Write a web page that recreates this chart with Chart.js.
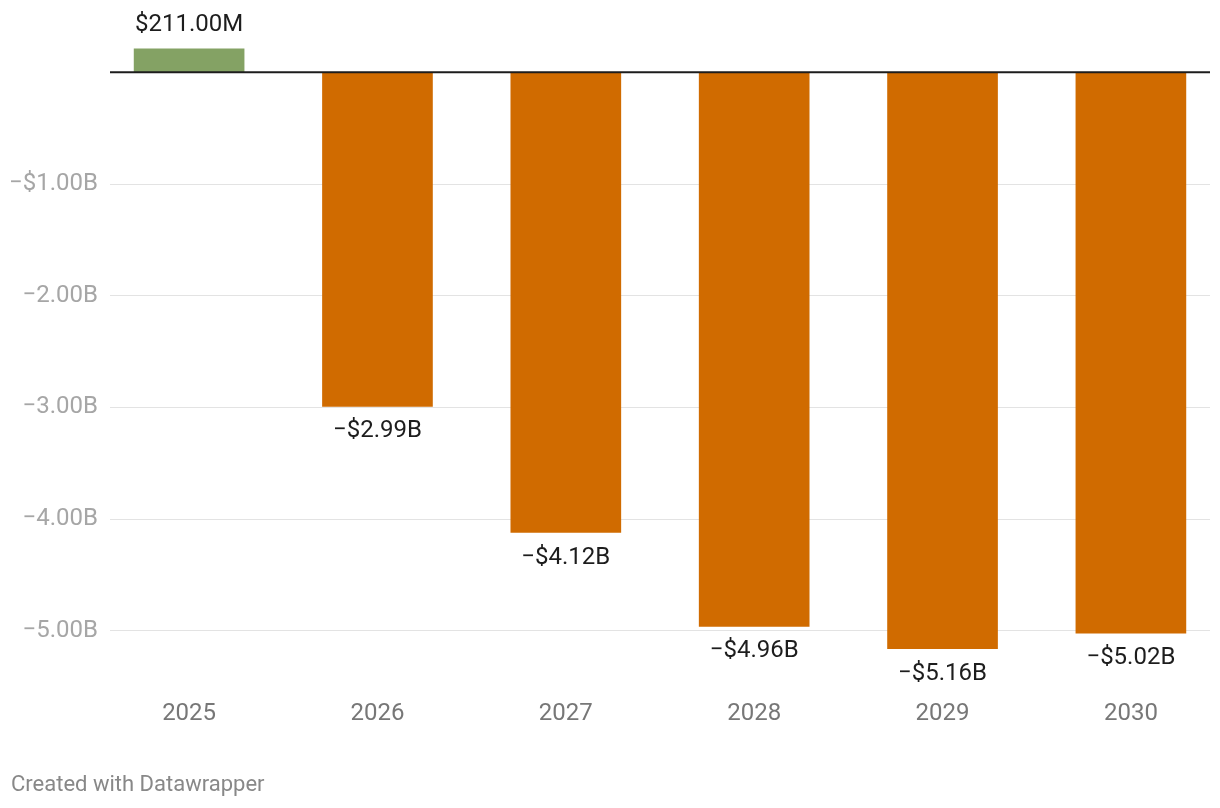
<!DOCTYPE html>
<html>
<head>
<meta charset="utf-8">
<script src="https://cdn.jsdelivr.net/npm/chart.js@4"></script>
<style>
html,body{margin:0;padding:0;background:#fff;}
#wrap{width:1220px;height:808px;position:relative;}
</style>
</head>
<body>
<div id="wrap"><canvas id="c" width="1220" height="808"></canvas></div>
<script>
// ---- data ----
const categories = ['2025', '2026', '2027', '2028', '2029', '2030'];
const values = [0.211, -2.99, -4.12, -4.96, -5.16, -5.02]; // billions USD
const valueLabels = ['$211.00M', '\u2212$2.99B', '\u2212$4.12B', '\u2212$4.96B', '\u2212$5.16B', '\u2212$5.02B'];
const barColors = ['#84a264', '#d06b00', '#d06b00', '#d06b00', '#d06b00', '#d06b00'];
const yTickValues = [-5, -4, -3, -2, -1, 0];
const yTickLabels = ['\u22125.00B', '\u22124.00B', '\u22123.00B', '\u22122.00B', '\u2212$1.00B', ''];
const footerText = 'Created with Datawrapper';

const FONT = 'Roboto';

const overlay = {
  id: 'overlay',
  afterDatasetsDraw(chart) {
    const ctx = chart.ctx;
    const ys = chart.scales.y;
    const area = chart.chartArea;
    // zero baseline on top of bars
    const y0 = ys.getPixelForValue(0);
    ctx.save();
    ctx.strokeStyle = '#1d1d1d';
    ctx.lineWidth = 2;
    ctx.beginPath();
    ctx.moveTo(area.left, y0);
    ctx.lineTo(area.right, y0);
    ctx.stroke();
    // value labels
    const meta = chart.getDatasetMeta(0);
    ctx.font = '24px ' + FONT;
    ctx.fillStyle = '#1d1d1d';
    ctx.textAlign = 'center';
    ctx.textBaseline = 'middle';
    meta.data.forEach((bar, i) => {
      const v = values[i];
      const y = v >= 0 ? bar.y - 24 : bar.y + 25;
      ctx.fillText(valueLabels[i], bar.x, y);
    });
    // footer
    ctx.font = '22px ' + FONT;
    ctx.fillStyle = '#888888';
    ctx.textAlign = 'left';
    ctx.fillText(footerText, 11, 785);
    ctx.restore();
  }
};

new Chart(document.getElementById('c'), {
  type: 'bar',
  data: {
    datasets: [{
      data: values.map((v, i) => ({ x: i, y: v })),
      backgroundColor: barColors,
      borderWidth: 0,
      barThickness: 110
    }]
  },
  options: {
    responsive: false,
    devicePixelRatio: 1,
    animation: false,
    layout: { padding: { top: 16.2, right: 10, bottom: 82.2, left: 0 } },
    plugins: { legend: { display: false }, tooltip: { enabled: false } },
    scales: {
      x: {
        type: 'linear',
        min: -0.42,
        max: 5.42,
        offset: false,
        grid: { display: false },
        border: { display: false },
        afterBuildTicks(scale) { scale.ticks = categories.map((c, i) => ({ value: i })); },
        afterFit(scale) { scale.height = 40; },
        ticks: {
          autoSkip: false,
          maxRotation: 0,
          padding: 6,
          color: '#777777',
          font: { family: FONT, size: 24 },
          callback: (v) => categories[v] !== undefined ? categories[v] : ''
        }
      },
      y: {
        type: 'linear',
        min: -5.492,
        max: 0.411,
        afterBuildTicks(scale) { scale.ticks = yTickValues.map(v => ({ value: v })); },
        afterFit(scale) { scale.width = 110; },
        border: { display: false },
        grid: {
          drawTicks: false,
          color: (ctx) => ctx.tick && ctx.tick.value === 0 ? 'rgba(0,0,0,0)' : '#e3e3e3',
          lineWidth: 1
        },
        ticks: {
          padding: 12,
          color: '#a6a6a6',
          font: { family: FONT, size: 24 },
          callback: (v) => {
            const k = yTickValues.indexOf(v);
            return k >= 0 ? yTickLabels[k] : '';
          }
        }
      }
    }
  },
  plugins: [overlay]
});
</script>
</body>
</html>
